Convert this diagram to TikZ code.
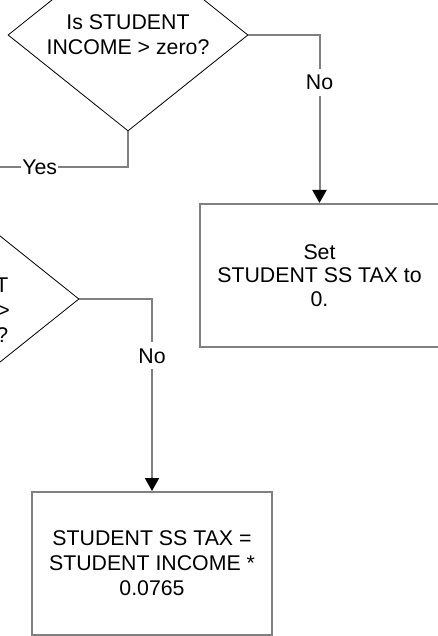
\documentclass[tikz,border=0pt]{standalone}
\usepackage{fontspec}
\setmainfont{Liberation Sans}
\usetikzlibrary{shapes.geometric,arrows.meta}
\definecolor{linegray}{HTML}{808080}
\tikzset{
  decision/.style={diamond, draw=black, line width=0.8pt, minimum width=240pt, minimum height=192pt, inner sep=0pt},
  process/.style={rectangle, draw=linegray, line width=2pt, inner sep=0pt},
  txt/.style={align=center, inner sep=0pt, font=\fontsize{21.3}{25}\selectfont},
  conn/.style={draw=linegray, line width=2pt},
  arr/.style={conn, -{Triangle[width=14pt,length=13pt,color=black]}},
  lbl/.style={fill=white, inner xsep=1pt, inner ysep=6pt, font=\fontsize{21.3}{25}\selectfont}
}
\begin{document}
\begin{tikzpicture}[x=1pt,y=-1pt]
\useasboundingbox (0,0) rectangle (437,636);
% first decision
\node[decision] (d1) at (128,35) {};
\node[txt] (d1t) at (128,35) {Is STUDENT\\INCOME > zero?};
% second decision (mostly off the left edge)
\node[decision] (d2) at (-41,299) {};
\node[txt] (d2t) at (-42,299) {Is\\STUDENT\\INCOME >\\\$106,800?};
% boxes
\node[process, minimum width=239pt, minimum height=143pt] (b1) at (319.5,275.5) {};
\node[txt, font=\fontsize{21.3}{23.5}\selectfont] (b1t) at (319.5,275.5) {Set\\STUDENT SS TAX to\\0.};
\node[process, minimum width=240pt, minimum height=143pt] (b2) at (152,563.5) {};
\node[txt] (b2t) at (152,563.5) {STUDENT SS TAX =\\STUDENT INCOME *\\0.0765};
% connectors
\coordinate (yesend) at (-10,167);
\draw[conn] (d1.south) |- node[lbl, pos=0.82] {Yes} (yesend);
\draw[arr] (d1.east) -| node[lbl, pos=0.642] {No} (b1.north);
\draw[arr] (d2.east) -| node[lbl, pos=0.648] {No} (b2.north);
\end{tikzpicture}
\end{document}
